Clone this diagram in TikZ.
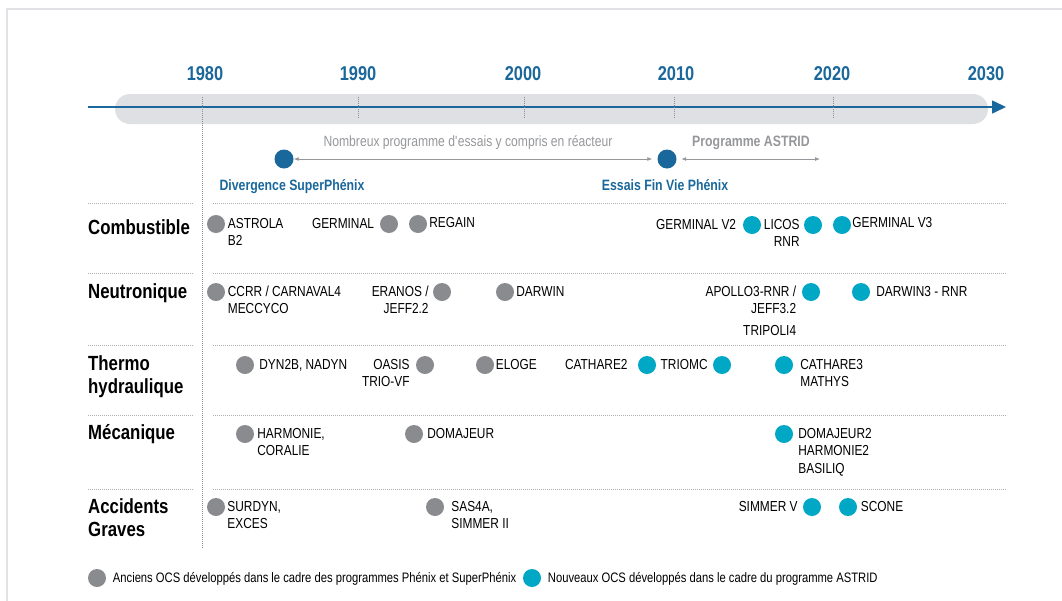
\documentclass[tikz,border=0pt]{standalone}
\usepackage{fontspec}
\setmainfont{Liberation Sans}[FakeStretch=0.82]
\usetikzlibrary{positioning,arrows.meta}

\definecolor{cblue}{RGB}{26,104,155}
\definecolor{cbar}{RGB}{223,224,228}
\definecolor{cold}{RGB}{137,139,143}
\definecolor{cnew}{RGB}{0,168,198}
\definecolor{cgreytext}{RGB}{150,151,154}
\definecolor{csep}{RGB}{175,175,178}
\definecolor{cframe}{RGB}{226,226,230}

% labels on several lines, baseline on the first line
\newcommand{\ocsleft}[1]{\begin{tabular}[t]{@{}l@{}}#1\end{tabular}}
\newcommand{\ocsright}[1]{\begin{tabular}[t]{@{}r@{}}#1\end{tabular}}

\tikzset{
  dot/.style={circle, inner sep=0pt, minimum size=18pt},
  olddot/.style={dot, fill=cold},
  newdot/.style={dot, fill=cnew},
  keydot/.style={dot, fill=cblue, minimum size=19pt},
  item/.style={inner sep=0pt, font=\fontsize{14.5}{17.3}\selectfont},
  lr/.style={anchor=base west, xshift=3pt, yshift=-4.5pt},
  ll/.style={anchor=base east, xshift=-4pt, yshift=-4.5pt},
  year/.style={anchor=base, inner sep=0pt, text=cblue, font=\fontsize{20}{24}\selectfont\bfseries},
  cat/.style={anchor=base west, inner sep=0pt, align=left, font=\fontsize{20.5}{23}\selectfont\bfseries},
  keytext/.style={anchor=base, inner sep=0pt, text=cblue, font=\fontsize{15}{18}\selectfont\bfseries},
  progtext/.style={anchor=base, inner sep=0pt, text=cgreytext, font=\fontsize{14.8}{17}\selectfont},
  legend/.style={inner sep=0pt, font=\fontsize{13.7}{16}\selectfont},
  sep/.style={csep, line width=0.7pt, dash pattern=on 0.8pt off 1.2pt},
  tick/.style={cold, line width=1pt, dash pattern=on 1pt off 1pt},
  prog/.style={cgreytext, line width=0.8pt, <->, >={Latex[length=5pt,width=4pt]}},
}

\begin{document}
\begin{tikzpicture}[x=1pt,y=-1pt]
	%%%%% START %%%%%
	\useasboundingbox (0,0) rectangle (1062,600);
	\draw[cframe, line width=2pt] (7,9) rectangle (1080,620);

	% timeline
	\fill[cbar, rounded corners=15pt] (115,94) rectangle (988,124);
	\coordinate (tstart) at (88,107);
	\coordinate (tend) at (1006,107);
	\draw[cblue, line width=1.5pt, -{Triangle[length=14pt,width=13pt]}] (tstart) -- (tend);

	\node[year] (y1980) at (205,80) {1980};
	\node[year] (y1990) at (358,80) {1990};
	\node[year] (y2000) at (523,80) {2000};
	\node[year] (y2010) at (676,80) {2010};
	\node[year] (y2020) at (832,80) {2020};
	\node[year] (y2030) at (986,80) {2030};

	\draw[tick] (202,97) -- (202,548);
	\draw[tick] (358.5,97) -- (358.5,119);
	\draw[tick] (524.5,97) -- (524.5,119);
	\draw[tick] (674,97) -- (674,119);
	\draw[tick] (833,97) -- (833,119);

	% programmes
	\node[keydot] (superphenix) at (284,159) {};
	\node[keydot] (finphenix) at (667,159) {};
	\coordinate (astridend) at (820,159);
	\draw[prog, shorten >=5pt] (superphenix) -- (finphenix);
	\draw[prog, shorten <=4.5pt] (finphenix) -- (astridend);

	\node[progtext] (essais) at (468,146.5) {Nombreux programme d\textquotesingle essais y compris en réacteur};
	\node[progtext, font=\fontsize{15}{18}\selectfont\bfseries] (astrid) at (751,146.5) {Programme ASTRID};
	\node[keytext] (splabel) at (292,190.5) {Divergence SuperPhénix};
	\node[keytext] (fvlabel) at (665,190.5) {Essais Fin Vie Phénix};

	% rows
	\draw[sep] (88,203) -- (194,203);  \draw[sep] (213,203) -- (1007,203);
	\draw[sep] (88,273) -- (194,273);  \draw[sep] (213,273) -- (1007,273);
	\draw[sep] (88,345) -- (194,345);  \draw[sep] (213,345) -- (1007,345);
	\draw[sep] (88,415) -- (194,415);  \draw[sep] (213,415) -- (1007,415);
	\draw[sep] (88,489) -- (194,489);  \draw[sep] (213,489) -- (1007,489);

	\node[cat] (combustible) at (88,234) {Combustible};
	\node[cat] (neutronique) at (88,298) {Neutronique};
	\node[cat] (thermo) at (88,393) {Thermo\\hydraulique};
	\node[cat] (mecanique) at (88,439) {Mécanique};
	\node[cat] (accidents) at (88,536) {Accidents\\Graves};

	% Combustible
	\node[olddot] (astrola) at (216,224) {};
	\node[item, lr, xshift=-0.5pt] (astrolaL) at (astrola.east) {\ocsleft{ASTROLA\\B2}};
	\node[olddot] (germinal) at (389,224) {};
	\node[item, ll, xshift=-1.5pt] (germinalL) at (germinal.west) {GERMINAL};
	\node[olddot] (regain) at (418,224) {};
	\node[item, lr, xshift=-1pt, yshift=1.5pt] (regainL) at (regain.east) {REGAIN};
	\node[newdot] (germinalv2) at (752,225) {};
	\node[item, ll, xshift=-2.5pt] (germinalv2L) at (germinalv2.west) {GERMINAL V2};
	\node[newdot] (licos) at (813,225) {};
	\node[item, ll] (licosL) at (licos.west) {\ocsright{LICOS\\RNR}};
	\node[newdot] (germinalv3) at (842,225) {};
	\node[item, lr, xshift=-2pt, yshift=2pt] (germinalv3L) at (germinalv3.east) {GERMINAL V3};

	% Neutronique
	\node[olddot] (ccrr) at (216,292) {};
	\node[item, lr, xshift=-0.5pt] (ccrrL) at (ccrr.east) {\ocsleft{CCRR / CARNAVAL4\\MECCYCO}};
	\node[olddot] (eranos) at (442,292) {};
	\node[item, ll] (eranosL) at (eranos.west) {\ocsright{ERANOS /\\JEFF2.2}};
	\node[olddot] (darwin) at (505,292) {};
	\node[item, lr, xshift=-1pt] (darwinL) at (darwin.east) {DARWIN};
	\node[newdot] (apollo) at (811,292) {};
	\node[item, ll, xshift=-1.5pt] (apolloL) at (apollo.west) {\ocsright{APOLLO3-RNR /\\JEFF3.2\\[4pt]TRIPOLI4}};
	\node[newdot] (darwin3) at (861,292) {};
	\node[item, lr, xshift=3pt] (darwin3L) at (darwin3.east) {DARWIN3 - RNR};

	% Thermo hydraulique
	\node[olddot] (dyn) at (245,365) {};
	\node[item, lr, xshift=2pt] (dynL) at (dyn.east) {DYN2B, NADYN};
	\node[olddot] (oasis) at (425,365) {};
	\node[item, ll, xshift=-2pt] (oasisL) at (oasis.west) {\ocsright{OASIS\\TRIO-VF}};
	\node[olddot] (eloge) at (485,365) {};
	\node[item, lr, xshift=-1.5pt] (elogeL) at (eloge.east) {ELOGE};
	\node[newdot] (cathare2) at (647,365) {};
	\node[item, ll, xshift=-6pt] (cathare2L) at (cathare2.west) {CATHARE2};
	\node[newdot] (triomc) at (722,365) {};
	\node[item, ll, xshift=-1pt] (triomcL) at (triomc.west) {TRIOMC};
	\node[newdot] (cathare3) at (784,365) {};
	\node[item, lr, xshift=4pt] (cathare3L) at (cathare3.east) {\ocsleft{CATHARE3\\MATHYS}};

	% Mecanique
	\node[olddot] (harmonie) at (245,434) {};
	\node[item, lr] (harmonieL) at (harmonie.east) {\ocsleft{HARMONIE,\\CORALIE}};
	\node[olddot] (domajeur) at (414,434) {};
	\node[item, lr, xshift=1pt] (domajeurL) at (domajeur.east) {DOMAJEUR};
	\node[newdot] (domajeur2) at (784,434) {};
	\node[item, lr, xshift=2pt] (domajeur2L) at (domajeur2.east) {\ocsleft{DOMAJEUR2\\HARMONIE2\\BASILIQ}};

	% Accidents graves
	\node[olddot] (surdyn) at (216,507) {};
	\node[item, lr, xshift=-1pt] (surdynL) at (surdyn.east) {\ocsleft{SURDYN,\\EXCES}};
	\node[olddot] (sas) at (435,507) {};
	\node[item, lr, xshift=4pt] (sasL) at (sas.east) {\ocsleft{SAS4A,\\SIMMER II}};
	\node[newdot] (simmerv) at (812,507) {};
	\node[item, ll, xshift=-1pt] (simmervL) at (simmerv.west) {SIMMER V};
	\node[newdot] (scone) at (848,507) {};
	\node[item, lr, xshift=0.5pt] (sconeL) at (scone.east) {SCONE};

	% legende
	\node[olddot] (keyold) at (97,578) {};
	\node[legend, anchor=base west] (keyoldL) at ([xshift=6.5pt,yshift=-4.5pt]keyold.east) {Anciens OCS développés dans le cadre des programmes Phénix et SuperPhénix};
	\node[newdot] (keynew) at (532,578) {};
	\node[legend, anchor=base west] (keynewL) at ([xshift=6.5pt,yshift=-4.5pt]keynew.east) {Nouveaux OCS développés dans le cadre du programme ASTRID};
	%%%%% END %%%%%
\end{tikzpicture}
\end{document}
